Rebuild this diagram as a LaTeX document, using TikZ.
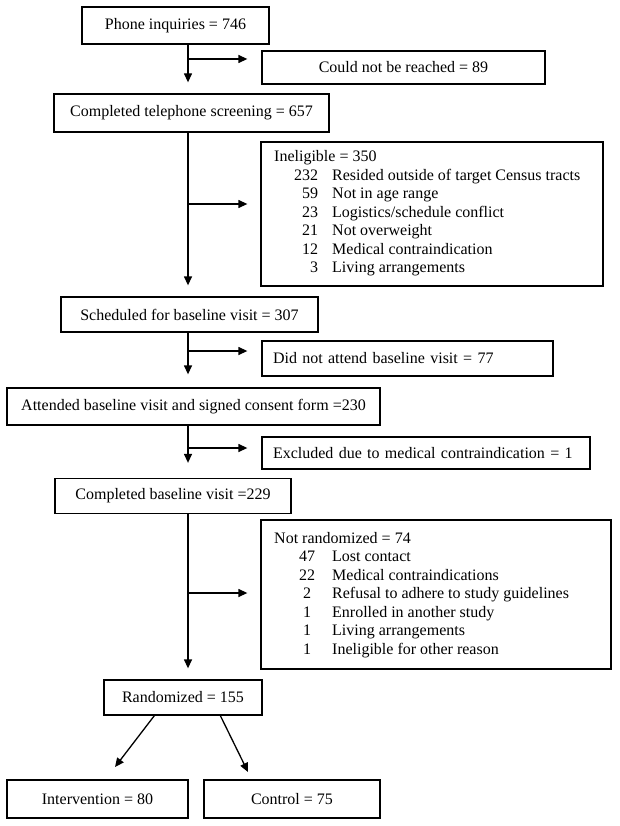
\documentclass[tikz,border=0pt]{standalone}
\usepackage{fontspec}
\setmainfont{Liberation Serif}
\usetikzlibrary{arrows.meta}
\begin{document}
\begin{tikzpicture}[x=1pt,y=-1pt,
  every node/.style={font=\fontsize{16}{18.5}\selectfont},
  box/.style={draw, line width=1.3pt, inner sep=0pt, align=center},
  leftbox/.style={box, inner xsep=11pt, align=left},
  listtext/.style={inner sep=0pt, anchor=base west},
  arr/.style={line width=1.3pt, -{Triangle[length=9pt,width=8pt]}}]
\useasboundingbox (0,0) rectangle (619,826);
% boxes
\node[box, minimum width=187pt, minimum height=37pt] (b1) at (175.5,25.5) {Phone inquiries = 746};
\node[box, minimum width=283pt, minimum height=33pt] (b2) at (403.5,67.5) {Could not be reached = 89};
\node[box, minimum width=275pt, minimum height=38pt] (b3) at (191.5,113) {Completed telephone screening = 657};
\node[box, minimum width=342pt, minimum height=144pt] (b4) at (432,214) {};
\node[box, minimum width=257pt, minimum height=35pt] (b5) at (189.5,314.5) {Scheduled for baseline visit = 307};
\node[leftbox, text width=269pt, minimum height=35pt] (b6) at (407.5,358.5) {Did not attend baseline visit = 77};
\node[box, minimum width=373pt, minimum height=37pt] (b7) at (193.5,406.5) {Attended baseline visit and signed consent form =230};
\node[leftbox, text width=306pt, minimum height=32pt] (b8) at (426,453) {Excluded due to medical contraindication = 1};
\node[box, minimum width=236pt, minimum height=35pt] (b9) at (173,496) {Completed baseline visit =229};
\node[box, minimum width=350pt, minimum height=149pt] (b10) at (436,594.5) {};
\node[box, minimum width=158pt, minimum height=35pt] (b11) at (183,697.5) {Randomized = 155};
\node[box, minimum width=181pt, minimum height=38pt] (b12) at (97.5,799) {Intervention = 80};
\node[box, minimum width=176pt, minimum height=38pt] (b13) at (292,799) {Control = 75};
% list texts
\node[listtext] (t4) at (274,162) {\begin{tabular}[t]{@{}l@{}}
Ineligible = 350\\
\makebox[44pt][r]{232}\hspace*{14pt}Resided outside of target Census tracts\\
\makebox[44pt][r]{59}\hspace*{14pt}Not in age range\\
\makebox[44pt][r]{23}\hspace*{14pt}Logistics/schedule conflict\\
\makebox[44pt][r]{21}\hspace*{14pt}Not overweight\\
\makebox[44pt][r]{12}\hspace*{14pt}Medical contraindication\\
\makebox[44pt][r]{3}\hspace*{14pt}Living arrangements
\end{tabular}};
\node[listtext] (t10) at (274,543) {\begin{tabular}[t]{@{}l@{}}
Not randomized = 74\\
\hspace*{16pt}\makebox[34pt][c]{47}\hspace*{8pt}Lost contact\\
\hspace*{16pt}\makebox[34pt][c]{22}\hspace*{8pt}Medical contraindications\\
\hspace*{16pt}\makebox[34pt][c]{2}\hspace*{8pt}Refusal to adhere to study guidelines\\
\hspace*{16pt}\makebox[34pt][c]{1}\hspace*{8pt}Enrolled in another study\\
\hspace*{16pt}\makebox[34pt][c]{1}\hspace*{8pt}Living arrangements\\
\hspace*{16pt}\makebox[34pt][c]{1}\hspace*{8pt}Ineligible for other reason
\end{tabular}};
% spine
\coordinate (sp) at (188,0);
\coordinate (j1) at (188,59);
\coordinate (j2) at (188,204);
\coordinate (j3) at (188,351);
\coordinate (j4) at (188,448);
\coordinate (j5) at (188,593);
\draw[arr, shorten >=11pt] (sp |- b1.south) -- (sp |- b3.north);
\draw[arr, shorten >=11pt] (sp |- b3.south) -- (sp |- b5.north);
\draw[arr, shorten >=13pt] (sp |- b5.south) -- (sp |- b7.north);
\draw[arr, shorten >=15pt] (sp |- b7.south) -- (sp |- b9.north);
\draw[arr, shorten >=11pt] (sp |- b9.south) -- (sp |- b11.north);
\draw[arr, shorten >=14pt] (j1) -- (j1 -| b2.west);
\draw[arr, shorten >=13pt] (j2) -- (j2 -| b4.west);
\draw[arr, shorten >=14pt] (j3) -- (j3 -| b6.west);
\draw[arr, shorten >=14pt] (j4) -- (j4 -| b8.west);
\draw[arr, shorten >=13pt] (j5) -- (j5 -| b10.west);
% split
\coordinate (d1) at (115,767);
\coordinate (d2) at (248,772);
\draw[arr] ([xshift=51pt]b11.south west) -- (d1);
\draw[arr] ([xshift=117pt]b11.south west) -- (d2);
\end{tikzpicture}
\end{document}
